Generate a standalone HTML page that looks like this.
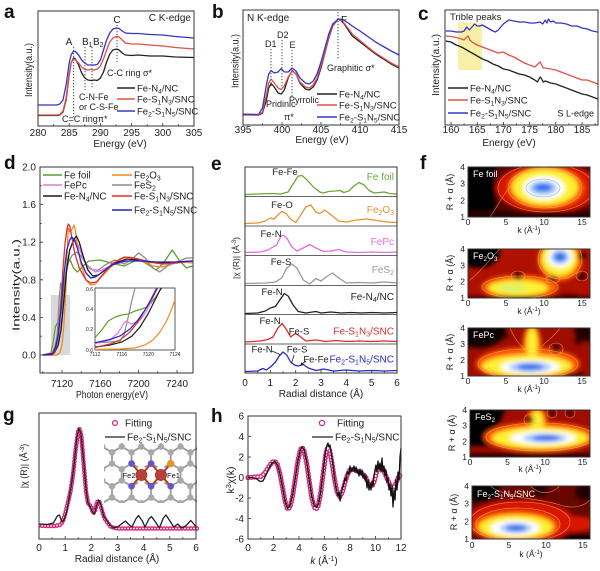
<!DOCTYPE html>
<html><head><meta charset="utf-8"><style>
html,body{margin:0;padding:0;background:#fff}
svg{display:block;font-family:"Liberation Sans",Arial,sans-serif}
.s{font-size:70%}
.t{font-size:10px;fill:#222}
.l{font-size:9.5px;fill:#222}
.n{font-size:9px;fill:#222}
.L{font-size:19px;font-weight:bold;fill:#111}
.fr{fill:none;stroke:#333;stroke-width:1}
.tk{fill:none;stroke:#333;stroke-width:0.8}
.c{fill:none;stroke-width:1.3;stroke-linejoin:round}
.dt{stroke:#444;stroke-width:1;stroke-dasharray:1.2 1.8;fill:none}
.w{font-size:9px;fill:#fff}
.m{font-size:8.5px;fill:#222}
.ct{fill:none;stroke:#ffb070;stroke-width:.6;opacity:.75}
</style></head><body>
<svg width="600" height="571" viewBox="0 0 600 571">
<defs>
<filter id="bl" x="-50%" y="-50%" width="200%" height="200%"><feGaussianBlur stdDeviation="2"/></filter>
<clipPath id="m1"><rect x="468" y="167" width="122" height="50"/></clipPath>
<clipPath id="m2"><rect x="468" y="249" width="122" height="49"/></clipPath>
<clipPath id="m3"><rect x="468" y="328" width="122" height="48"/></clipPath>
<clipPath id="m4"><rect x="470" y="410" width="120" height="47"/></clipPath>
<clipPath id="m5"><rect x="472" y="486" width="118" height="53"/></clipPath>
<clipPath id="ins"><rect x="95" y="288" width="80" height="62"/></clipPath>
<clipPath id="gc"><rect x="39" y="413" width="160" height="126"/></clipPath>
<marker id="ar" viewBox="0 0 6 6" refX="5" refY="3" markerWidth="4" markerHeight="4" orient="auto"><path d="M0 0L6 3L0 6z" fill="#222"/></marker>
<pattern id="hex" patternUnits="userSpaceOnUse" x="112" y="441" width="19.57" height="33.9">
<g stroke="#9a9a9a" stroke-width="1.8" fill="none">
<path d="M0 11.3V22.6M19.57 11.3V22.6M0 11.3L9.785 5.65L19.57 11.3M0 22.6L9.785 28.25L19.57 22.6M9.785 28.25V33.9M9.785 0V5.65"/>
</g>
<g fill="#a8a8a8">
<circle cx="0" cy="11.3" r="3.2"/><circle cx="19.57" cy="11.3" r="3.2"/><circle cx="0" cy="22.6" r="3.2"/><circle cx="19.57" cy="22.6" r="3.2"/><circle cx="9.785" cy="5.65" r="3.2"/><circle cx="9.785" cy="28.25" r="3.2"/>
</g>
</pattern>
</defs>

<!-- ============ Panel a ============ -->
<text class="L" x="4" y="18">a</text>
<path class="dt" d="M73.6 47V117M85 47V90M92 47V88M117 25V62"/>
<polyline class="c" stroke="#222" points="38,115.5 56.7,115.5 59.8,115 63,112 66.1,100 69.2,75 71.1,63 73.6,58 75.4,59 78.6,65 81.7,73 84.8,78 87.9,80 91,80.5 94.2,80 97.3,80.5 100.4,78 103.5,72 106.6,62 109.8,54 112.9,50 116.6,49 119.1,50 122.2,53 125.4,55 131.6,55.5 137.8,55 150.3,56 162.8,56 175.3,57 194,57.5"/>
<polyline class="c" stroke="#e05048" points="38,115 56.7,115 59.8,114.5 63,111 66.1,98 69.2,74 71.1,63 73.6,59 75.4,60 78.6,63 81.7,67 84.8,69.5 87.9,70 91,69.5 94.2,70 97.3,69 100.4,66 103.5,59 106.6,50 109.8,42 112.9,38 116.6,36.5 119.1,37 122.2,40 125.4,43 131.6,44 137.8,44 150.3,45 162.8,46 175.3,47.5 194,49"/>
<polyline class="c" stroke="#3535c8" points="38,105 56.7,105 59.8,104 63,100 66.1,85 69.2,63 71.1,55 73.6,51 75.4,51.5 78.6,55 81.7,60 84.8,63 87.9,65 91,65 94.2,65 97.3,64.5 100.4,60 103.5,50 106.6,40 109.8,33 112.9,29 116.6,28 119.1,28.5 122.2,31 125.4,33 131.6,33.5 137.8,33.5 150.3,34.5 162.8,35 175.3,36.5 194,38"/>
<rect class="fr" x="38" y="11" width="156" height="115"/>
<path class="tk" d="M38 126v-3M69.2 126v-3M100.4 126v-3M131.6 126v-3M162.8 126v-3M194 126v-3M53.6 126v-1.8M84.8 126v-1.8M116 126v-1.8M147.2 126v-1.8M178.4 126v-1.8"/>
<g class="t" text-anchor="middle"><text x="38" y="136">280</text><text x="69.2" y="136">285</text><text x="100.4" y="136">290</text><text x="131.6" y="136">295</text><text x="162.8" y="136">300</text><text x="194" y="136">305</text>
<text x="120" y="147">Energy (eV)</text></g>
<text class="t" transform="translate(32,70) rotate(-90)" text-anchor="middle" textLength="54" lengthAdjust="spacingAndGlyphs">Intensity(a.u.)</text>
<text class="t" x="69" y="45" text-anchor="middle">A</text>
<text class="t" x="82" y="45">B<tspan class="s" dy="2">1</tspan></text>
<text class="t" x="93" y="45">B<tspan class="s" dy="2">2</tspan></text>
<text class="t" x="117" y="23" text-anchor="middle">C</text>
<text class="t" x="191" y="21" text-anchor="end">C K-edge</text>
<text class="n" x="107" y="76">C-C ring σ*</text>
<text class="n" x="79" y="100">C-N-Fe</text>
<text class="n" x="79" y="110">or C-S-Fe</text>
<text class="n" x="62" y="122">C=C ringπ*</text>
<path d="M117 88h18" stroke="#222" stroke-width="1.5"/><text class="l" x="137" y="91.5">Fe-N<tspan class="s" dy="2">4</tspan><tspan dy="-2">/NC</tspan></text>
<path d="M117 99h18" stroke="#e05048" stroke-width="1.5"/><text class="l" x="137" y="102.5">Fe-S<tspan class="s" dy="2">1</tspan><tspan dy="-2">N</tspan><tspan class="s" dy="2">3</tspan><tspan dy="-2">/SNC</tspan></text>
<path d="M117 111h18" stroke="#3535c8" stroke-width="1.5"/><text class="l" x="137" y="114.5">Fe<tspan class="s" dy="2">2</tspan><tspan dy="-2">-S</tspan><tspan class="s" dy="2">1</tspan><tspan dy="-2">N</tspan><tspan class="s" dy="2">5</tspan><tspan dy="-2">/SNC</tspan></text>

<!-- ============ Panel b ============ -->
<text class="L" x="212" y="18">b</text>
<path class="dt" d="M271 49V88M282 40V90M292 50V98M338 12V60"/>
<polyline class="c" stroke="#222" points="243,115 258.6,115 262.5,113 266.4,100 268.7,88 271.1,83.5 274.2,87 278.1,93 281.2,94 284.3,90 288.2,78 292.1,70.5 296,74 299.9,83 305.4,89 309.3,90 313.2,87 317.1,80 321,68 324.9,53 328.8,38 332.7,26 338.2,19 342.8,22 348.3,30 352.2,36 360,42 367.8,48 375.6,54 383.4,59 391.2,64 399,68"/>
<polyline class="c" stroke="#e05048" points="243,115 258.6,115 262.5,112 266.4,95 268.7,83 271.1,79 274.2,83 278.1,88 281.2,89.5 284.3,86 288.2,77 292.1,71 296,74 299.9,82 305.4,87 309.3,88 313.2,85 317.1,78 321,66 324.9,52 328.8,37 332.7,25.5 338.2,19 342.8,21.5 348.3,28.5 352.2,34 360,40.5 367.8,47 375.6,53 383.4,58 391.2,63 399,67"/>
<polyline class="c" stroke="#3535c8" points="243,114 258.6,114.5 262.5,108 266.4,85 268.7,74 271.1,70.5 274.2,73 278.1,72 281.2,68.5 284.3,72 288.2,72 292.1,68 296,71 299.9,78 305.4,83 309.3,84 313.2,81 317.1,74 321,62 324.9,48 328.8,34 332.7,24 338.2,19 342.8,19.5 348.3,23 352.2,26 360,31 367.8,36.5 375.6,42 383.4,46.5 391.2,51 399,55"/>
<rect class="fr" x="243" y="10" width="156" height="115"/>
<path class="tk" d="M243 125v-3M282 125v-3M321 125v-3M360 125v-3M399 125v-3M262.5 125v-1.8M301.5 125v-1.8M340.5 125v-1.8M379.5 125v-1.8"/>
<g class="t" text-anchor="middle"><text x="243" y="133">395</text><text x="282" y="133">400</text><text x="321" y="133">405</text><text x="360" y="133">410</text><text x="399" y="133">415</text>
<text x="322" y="143">Energy (eV)</text></g>
<text class="t" transform="translate(238.5,61) rotate(-90)" text-anchor="middle" textLength="54" lengthAdjust="spacingAndGlyphs">Intensity(a.u.)</text>
<text class="t" x="247" y="21">N K-edge</text>
<text class="n" x="265" y="47">D1</text>
<text class="n" x="277" y="38">D2</text>
<text class="n" x="289.5" y="48">E</text>
<text class="t" x="341" y="23">F</text>
<text class="n" x="327" y="71">Graphitic σ*</text>
<text class="n" x="289" y="103">Pyrrolic</text>
<text class="n" x="266" y="107">Pridinic</text>
<text class="n" x="284" y="120">π*</text>
<path d="M317 94h20" stroke="#222" stroke-width="1.5"/><text class="l" x="339" y="97.5">Fe-N<tspan class="s" dy="2">4</tspan><tspan dy="-2">/NC</tspan></text>
<path d="M317 105h20" stroke="#e05048" stroke-width="1.5"/><text class="l" x="339" y="108.5">Fe-S<tspan class="s" dy="2">1</tspan><tspan dy="-2">N</tspan><tspan class="s" dy="2">3</tspan><tspan dy="-2">/SNC</tspan></text>
<path d="M317 117h20" stroke="#3535c8" stroke-width="1.5"/><text class="l" x="339" y="120.5">Fe<tspan class="s" dy="2">2</tspan><tspan dy="-2">-S</tspan><tspan class="s" dy="2">1</tspan><tspan dy="-2">N</tspan><tspan class="s" dy="2">5</tspan><tspan dy="-2">/SNC</tspan></text>

<!-- ============ Panel c ============ -->
<text class="L" x="418" y="20">c</text>
<rect x="458" y="23" width="24" height="47" fill="#f8f0a8"/>
<polyline class="c" stroke="#3535c8" points="445.8,31 451,31 456.2,32 461.5,32 464.1,31 466.7,27 469.3,30 472,27 474.6,24 477.2,26 479.8,26 482.4,25 487.7,28 492.9,31 495.5,32 498.2,30 503.4,24 508.6,20 513.9,21 519.1,22 524.4,22 529.6,23 534.8,23 540.1,22 542.7,24 545.3,20 546.9,23 548.5,19 550.6,22 553.2,21 555.8,23 561,23 566.3,24 571.5,26 576.8,26 582,28 587.2,29 592.5,31 597.7,32"/>
<polyline class="c" stroke="#e05048" points="445.8,36 451,36.5 456.2,37.5 461.5,39 464.1,40 466.7,37 468.3,36 469.9,40 472,42 477.2,45 482.4,47 487.7,49 492.9,51 498.2,53 503.4,52 508.6,55 513.9,57 519.1,60 524.4,63 529.6,65 534.8,67 540.1,62 541.7,65 543.2,68 545.3,68 550.6,69 555.8,70 561,72 566.3,74 571.5,76 576.8,78 582,80 587.2,80 592.5,82 597.7,84"/>
<polyline class="c" stroke="#222" points="445.8,41 451,42 456.2,45 461.5,47 466.7,50 472,53 477.2,56 482.4,59 487.7,61 492.9,64 498.2,66 503.4,69 508.6,70 513.9,72 519.1,74 524.4,75 529.6,77 534.8,80 537.4,82 540.1,77 541.7,79 543.2,82 545.3,81 550.6,83 555.8,84 561,86 566.3,88 571.5,90 576.8,92 582,94 587.2,95 592.5,97 597.7,99"/>
<rect class="fr" x="445" y="10" width="153" height="115"/>
<path class="tk" d="M451 125v-3M477.2 125v-3M503.4 125v-3M529.6 125v-3M555.8 125v-3M582 125v-3M464.1 125v-1.8M490.3 125v-1.8M516.5 125v-1.8M542.7 125v-1.8M568.9 125v-1.8M595.1 125v-1.8"/>
<g class="t" text-anchor="middle"><text x="451" y="133">160</text><text x="477.2" y="133">165</text><text x="503.4" y="133">170</text><text x="529.6" y="133">175</text><text x="555.8" y="133">180</text><text x="582" y="133">185</text>
<text x="509" y="146">Energy (eV)</text></g>
<text class="t" transform="translate(439,65) rotate(-90)" text-anchor="middle" textLength="62" lengthAdjust="spacingAndGlyphs">Intensity(a.u.)</text>
<text class="l" x="450" y="20">Trible peaks</text>
<path d="M448 88h20" stroke="#222" stroke-width="1.5"/><text class="l" x="470" y="91.5">Fe-N<tspan class="s" dy="2">4</tspan><tspan dy="-2">/NC</tspan></text>
<path d="M448 100h20" stroke="#e05048" stroke-width="1.5"/><text class="l" x="470" y="103.5">Fe-S<tspan class="s" dy="2">1</tspan><tspan dy="-2">N</tspan><tspan class="s" dy="2">3</tspan><tspan dy="-2">/SNC</tspan></text>
<path d="M448 113h20" stroke="#3535c8" stroke-width="1.5"/><text class="l" x="470" y="116.5">Fe<tspan class="s" dy="2">2</tspan><tspan dy="-2">-S</tspan><tspan class="s" dy="2">1</tspan><tspan dy="-2">N</tspan><tspan class="s" dy="2">5</tspan><tspan dy="-2">/SNC</tspan></text>
<text x="594" y="116.5" font-size="9" fill="#222" text-anchor="end">S L-edge</text>

<!-- ============ Panel d ============ -->
<text class="L" x="4" y="169">d</text>
<rect x="51" y="295" width="19" height="60" fill="#d9d9d9"/>
<polyline class="c" stroke="#5aa02c" points="42.8,355 50.5,355 53.4,341 55.3,327 58.2,321 61,313 63.9,285 66.8,266 69.7,259 73.5,268 77.3,272 83.1,266 88.8,261 100.3,260 114.7,264 124.3,266 138.6,259 150.1,266 155.9,270 163.5,263 172.2,250 179.8,261 186.5,268 192.3,266"/>
<polyline class="c" stroke="#8c8c8c" points="42.8,355 52.4,353 55.3,345 57.2,335 59.1,300 60.6,283 62,290 63.9,290 65.8,275 68.7,262 71.6,256 76.4,252 81.2,256 86,264 92.7,270 98.4,270 105.1,265 114.7,260 124.3,264 131,260 138.6,253 145.3,258 153,268 159.7,272 167.4,266 176.9,262 186.5,258 192.3,258"/>
<polyline class="c" stroke="#e27ae0" points="42.8,355 54.3,352 57.2,346 60.1,325 62,318 63.9,300 66.8,268 69.7,250 72.5,243 75.4,240 78.3,245 83.1,258 88.8,268 95.5,272 102.2,270 111.8,265 124.3,262 138.6,259 153,262 167.4,264 181.7,262 192.3,263"/>
<polyline class="c" stroke="#f08a24" points="42.8,355 57.2,355 60.1,352 62,345 63.9,325 65.8,290 67.3,250 68.2,228 69.7,232 71.6,230 74,225 75.4,230 77.3,245 81.2,265 86,280 90.7,285 95.5,284 100.3,278 109.9,268 119.5,259 129.1,257 138.6,259 153,266 162.6,267 176.9,262 192.3,262"/>
<polyline class="c" stroke="#1a1a1a" points="42.8,355 54.3,353 58.2,345 61,330 63.9,300 66.8,268 69.7,250 73.5,240 76.4,236 79.2,242 83.1,256 87.9,270 92.7,276 98.4,275 105.1,270 114.7,263 127.1,259 138.6,260 157.8,263 176.9,262 192.3,261"/>
<polyline class="c" stroke="#e0302a" points="42.8,355 52.4,355 55.3,350 57.2,340 59.1,325 61,300 62.9,270 64.9,245 66.8,230 68.2,224 69.7,226 71.6,236 74.5,252 79.2,268 86,280 90.7,283 96.5,282 102.2,275 111.8,264 124.3,257 133.8,258 148.2,262 162.6,264 176.9,263 192.3,261"/>
<polyline class="c" stroke="#2424c8" points="42.8,355 52.4,354 55.3,348 58.2,335 61,310 63.9,275 66.8,250 69.7,240 71.6,237 74.5,240 77.3,248 81.2,262 86,273 90.7,278 95.5,277 102.2,272 111.8,265 124.3,261 138.6,261 157.8,262 176.9,262 192.3,261"/>
<!-- inset -->
<rect x="95" y="288" width="80" height="62" fill="#fff" stroke="#333" stroke-width="0.8"/>
<g clip-path="url(#ins)" fill="none" stroke-width="1.2">
<polyline stroke="#5aa02c" points="95,337.6 101.7,330 108.3,321 115,317 121.7,315 128.3,314 135,311 141.7,309 148.3,306.6 155,298 161.7,288 165,282"/>
<polyline stroke="#8c8c8c" points="95,343 110,342 120,341 124,335 128,318 132,300 135,288 137,280"/>
<polyline stroke="#e27ae0" points="95,343.5 110,340 118,333 124,323 127,321 131,324 135,322.5 140,320 146,312 152,300 156,290 158,284"/>
<polyline stroke="#f08a24" points="95,349.5 120,349 135,348 145,345 153,340 160,332 166,322 171,311 175,300"/>
<polyline stroke="#1a1a1a" points="95,347 110,345 122,342 132,336 140,327 148,314 155,300 160,290 166,280"/>
<polyline stroke="#e0302a" points="95,347.5 110,344 120,340 130,332 138,322 145,310 151,299 156,289 159,282"/>
<polyline stroke="#2424c8" points="95,342.8 110,339.5 120,336 130,329 138,320 145,310 151,300 157,289 160,282"/>
</g>
<g font-size="5" fill="#222"><text x="93" y="291" text-anchor="end">0.6</text><text x="93" y="311" text-anchor="end">0.4</text><text x="93" y="331" text-anchor="end">0.2</text><text x="93" y="352" text-anchor="end">0.0</text>
<g text-anchor="middle"><text x="95" y="356">7112</text><text x="121.7" y="356">7116</text><text x="148.3" y="356">7120</text><text x="175" y="356">7124</text></g></g>
<rect class="fr" x="40" y="167" width="153" height="206"/>
<path class="tk" d="M40 355h3M40 317.4h3M40 279.8h3M40 242.2h3M40 204.6h3M40 336.2h1.8M40 298.6h1.8M40 261h1.8M40 223.4h1.8M40 185.8h1.8M62 373v-3M100.3 373v-3M138.6 373v-3M177 373v-3M81.2 373v-1.8M119.5 373v-1.8M157.8 373v-1.8M42.8 373v-1.8"/>
<g class="t" text-anchor="end"><text x="36" y="358.5">0.0</text><text x="36" y="320.9">0.4</text><text x="36" y="283.3">0.8</text><text x="36" y="245.7">1.2</text><text x="36" y="208.1">1.6</text><text x="36" y="170.5">2.0</text></g>
<g class="t" text-anchor="middle"><text x="62" y="387">7120</text><text x="100.3" y="387">7160</text><text x="138.6" y="387">7200</text><text x="177" y="387">7240</text>
<text x="112" y="398" textLength="72" lengthAdjust="spacingAndGlyphs">Photon energy(eV)</text></g>
<text transform="translate(19.5,285) rotate(-90)" text-anchor="middle" font-size="10" fill="#222" textLength="92" lengthAdjust="spacingAndGlyphs">Intensity(a.u.)</text>
<g font-size="9.8" fill="#222">
<path d="M43 175h19" stroke="#5aa02c" stroke-width="1.5"/><text x="64" y="178.5">Fe foil</text>
<path d="M112 175h20" stroke="#f08a24" stroke-width="1.5"/><text x="134" y="178.5">Fe<tspan class="s" dy="2">2</tspan><tspan dy="-2">O</tspan><tspan class="s" dy="2">3</tspan></text>
<path d="M43 185h19" stroke="#e27ae0" stroke-width="1.5"/><text x="64" y="188.5">FePc</text>
<path d="M112 185h20" stroke="#8c8c8c" stroke-width="1.5"/><text x="134" y="188.5">FeS<tspan class="s" dy="2">2</tspan></text>
<path d="M43 196h19" stroke="#1a1a1a" stroke-width="1.5"/><text x="64" y="199.5">Fe-N<tspan class="s" dy="2">4</tspan><tspan dy="-2">/NC</tspan></text>
<path d="M112 196h20" stroke="#e0302a" stroke-width="1.5"/><text x="134" y="199.5">Fe-S<tspan class="s" dy="2">1</tspan><tspan dy="-2">N</tspan><tspan class="s" dy="2">3</tspan><tspan dy="-2">/SNC</tspan></text>
<path d="M112 210h20" stroke="#2424c8" stroke-width="1.5"/><text x="134" y="213.5">Fe<tspan class="s" dy="2">2</tspan><tspan dy="-2">-S</tspan><tspan class="s" dy="2">1</tspan><tspan dy="-2">N</tspan><tspan class="s" dy="2">5</tspan><tspan dy="-2">/SNC</tspan></text>
</g>

<!-- ============ Panel e ============ -->
<text class="L" x="211" y="170">e</text>
<polyline class="c" stroke="#6aa83a" points="245,194.5 257.7,194 270.3,193.5 280.5,194 288.1,192 293.1,184 298.2,176 302,175.5 307.1,180 313.4,187 319.7,192 323.5,193 328.6,191.5 334.9,191 340,190.5 343.8,192.5 348.9,191 353.9,186 359,182.5 364.1,185 369.1,190.5 374.2,193 379.2,192.5 384.3,192 389.4,193.5 397,194"/>
<polyline class="c" stroke="#e8922e" points="245,223.5 257.7,223 265.3,221 270.3,218 274.1,219 277.9,215 281.7,211.5 285.5,213 290.6,219 295.7,222.5 300.7,215 305.8,207 310.9,205 315.9,212 319.7,213.5 324.8,210 331.1,215 338.7,221 346.3,222 356.5,220 366.6,219 376.7,220.5 386.8,222 397,222.5"/>
<polyline class="c" stroke="#e070e0" points="245,252.5 260.2,252 267.8,250 272.9,247 276.7,245 280.5,237 283,235 286.8,238 291.9,247 296.9,251 303.3,248 309.6,244.5 315.9,248 323.5,251.5 331.1,251 338.7,249.5 346.3,252 359,252.5 371.7,252 384.3,252.5 397,252"/>
<polyline class="c" stroke="#999" points="245,283.5 265.3,283 275.4,282 281.7,278 286.8,268 291.9,264 296.9,268 303.3,280 309.6,284 315.9,278.5 321,281 326.1,277 332.4,273 338.7,278 346.3,283 359,282.5 371.7,283 384.3,282 397,283"/>
<polyline class="c" stroke="#222" points="245,313.5 257.7,313 265.3,311 270.3,308 275.4,306.5 280.5,299 284.3,293.5 288.1,296 293.1,305 298.2,311.5 305.8,313 315.9,311.5 321,313 331.1,312 341.3,313 351.4,312.5 361.5,313 371.7,312.5 384.3,313 397,312.5"/>
<polyline class="c" stroke="#d83030" points="245,342 260.2,341 267.8,339.5 272.9,337 277.9,328 282.2,323.5 286.8,330 290.6,337 293.1,335 295.7,333.5 299.5,336 305.8,341 315.9,340 326.1,341.5 336.2,340.5 346.3,341.5 359,341 371.7,341.5 384.3,341 397,341.5"/>
<polyline class="c" stroke="#2a2ad0" points="245,371.5 257.7,371 262.7,368.5 266.5,370 271.6,366 275.4,362 279.2,356 283,352 286.8,355 290.6,362 294.4,365 298.2,366 303.3,364.5 308.3,368 315.9,370.5 323.5,369 333.7,371 346.3,370 359,371 371.7,370.5 384.3,371 397,370.5"/>
<rect class="fr" x="245" y="167" width="152" height="206"/>
<path d="M245 196.5H397M245 226H397M245 255.5H397M245 285.5H397M245 314.5H397M245 344H397" stroke="#333" stroke-width="0.8"/>
<path class="tk" d="M245 373v-3M270.3 373v-3M295.7 373v-3M321 373v-3M346.3 373v-3M371.7 373v-3M397 373v-3M257.7 373v-1.8M283 373v-1.8M308.3 373v-1.8M333.7 373v-1.8M359 373v-1.8M384.3 373v-1.8"/>
<g class="t" text-anchor="middle"><text x="245" y="386">0</text><text x="270.3" y="386">1</text><text x="295.7" y="386">2</text><text x="321" y="386">3</text><text x="346.3" y="386">4</text><text x="371.7" y="386">5</text><text x="397" y="386">6</text>
<text x="321" y="397">Radial distance (Å)</text></g>
<text transform="translate(239,258) rotate(-90)" text-anchor="middle" font-size="8.5" fill="#222">|χ (R)| (Å<tspan class="s" dy="-3">-3</tspan><tspan dy="3">)</tspan></text>
<g class="l" text-anchor="middle">
<text x="285" y="175">Fe-Fe</text><text x="282" y="208">Fe-O</text><text x="271" y="237">Fe-N</text><text x="281" y="265">Fe-S</text><text x="272" y="295">Fe-N</text><text x="270" y="324">Fe-N</text><text x="299" y="334.5">Fe-S</text><text x="262" y="352.5">Fe-N</text><text x="297" y="352.5">Fe-S</text><text x="316" y="362.5">Fe-Fe</text>
</g>
<path d="M272 351L281 355M294 355L291.5 363.5M306 361L300.5 365" stroke="#222" stroke-width="0.8" marker-end="url(#ar)"/>
<g font-size="10" text-anchor="end">
<text x="394" y="180" style="fill:#6aa83a">Fe foil</text>
<text x="394" y="213" style="fill:#e8922e">Fe<tspan class="s" dy="2">2</tspan><tspan dy="-2">O</tspan><tspan class="s" dy="2">3</tspan></text>
<text x="394" y="245" style="fill:#e070e0">FePc</text>
<text x="394" y="273" style="fill:#999">FeS<tspan class="s" dy="2">2</tspan></text>
<text x="394" y="300" style="fill:#222">Fe-N<tspan class="s" dy="2">4</tspan><tspan dy="-2">/NC</tspan></text>
<text x="394" y="334.5" style="fill:#d83030">Fe-S<tspan class="s" dy="2">1</tspan><tspan dy="-2">N</tspan><tspan class="s" dy="2">3</tspan><tspan dy="-2">/SNC</tspan></text>
<text x="394" y="362.5" style="fill:#2a2ad0">Fe<tspan class="s" dy="2">2</tspan><tspan dy="-2">-S</tspan><tspan class="s" dy="2">1</tspan><tspan dy="-2">N</tspan><tspan class="s" dy="2">5</tspan><tspan dy="-2">/SNC</tspan></text>
</g>

<!-- ============ Panel f ============ -->
<text class="L" x="420" y="169">f</text>
<!-- map 1 Fe foil -->
<g clip-path="url(#m1)">
<rect x="468" y="167" width="122" height="50" fill="#5a0600"/>
<g filter="url(#bl)">
<rect x="455" y="160" width="40" height="65" fill="#050000"/>
<ellipse cx="548" cy="188" rx="52" ry="25" fill="#d81800"/>
<ellipse cx="546" cy="188" rx="38" ry="21" fill="#ff5a00"/>
<ellipse cx="545" cy="187" rx="33" ry="18.5" fill="#fff030"/>
<ellipse cx="544" cy="188" rx="21" ry="12" fill="#fff"/>
<ellipse cx="543" cy="188" rx="14" ry="7" fill="#a0c4ff"/>
<ellipse cx="543" cy="187.5" rx="9" ry="4" fill="#2f6fe8"/>
<rect x="460" y="211" width="140" height="12" fill="#2a0000"/>
</g>
<g class="ct"><ellipse cx="546" cy="188" rx="48" ry="24"/><ellipse cx="545" cy="188" rx="37" ry="20"/><path d="M490 217C502 200 507 185 520 180"/></g>
<ellipse cx="543" cy="188" rx="17" ry="9" fill="none" stroke="#8ab0ff" stroke-width=".6"/>
</g>
<rect class="fr" x="468" y="167" width="122" height="50"/>
<text class="w" x="473" y="177">Fe foil</text>
<!-- map 2 Fe2O3 -->
<g clip-path="url(#m2)">
<rect x="468" y="249" width="122" height="49" fill="#b01000"/>
<g filter="url(#bl)">
<ellipse cx="478" cy="252" rx="22" ry="16" fill="#000"/>
<ellipse cx="520" cy="287" rx="38" ry="12" fill="#ff6a00"/>
<ellipse cx="560" cy="260" rx="22" ry="21" fill="#ff6a00"/>
<ellipse cx="518" cy="288" rx="30" ry="8" fill="#fff030"/>
<ellipse cx="559" cy="259" rx="18" ry="17" fill="#fff030"/>
<ellipse cx="560" cy="257" rx="13" ry="11" fill="#fff"/>
<ellipse cx="560" cy="257" rx="9" ry="7" fill="#a0c4ff"/>
<ellipse cx="560" cy="257" rx="6" ry="4.5" fill="#2f6fe8"/>
<ellipse cx="512" cy="288" rx="14" ry="3.5" fill="#d8f070"/>
<circle cx="518" cy="276" r="4" fill="#300000"/>
<circle cx="553" cy="279" r="3.5" fill="#300000"/>
<circle cx="582" cy="276" r="4" fill="#300000"/>
<circle cx="582" cy="256" r="4" fill="#300000"/>
<ellipse cx="570" cy="296" rx="10" ry="2" fill="#300000"/>
<rect x="460" y="296" width="140" height="6" fill="#500000"/>
</g>
<g class="ct"><ellipse cx="518" cy="276" rx="7" ry="5"/><ellipse cx="553" cy="279" rx="7" ry="4"/><ellipse cx="582" cy="276" rx="6" ry="5"/><ellipse cx="520" cy="287" rx="38" ry="11"/><ellipse cx="560" cy="259" rx="22" ry="20"/><path d="M470 280C485 268 490 258 500 249"/></g>
</g>
<rect class="fr" x="468" y="249" width="122" height="49"/>
<text class="w" x="473" y="259">Fe<tspan class="s" dy="2">2</tspan><tspan dy="-2">O</tspan><tspan class="s" dy="2">3</tspan></text>
<!-- map 3 FePc -->
<g clip-path="url(#m3)">
<rect x="468" y="328" width="122" height="48" fill="#a00c00"/>
<g filter="url(#bl)">
<ellipse cx="478" cy="330" rx="28" ry="18" fill="#100000"/>
<ellipse cx="592" cy="330" rx="18" ry="12" fill="#200000"/>
<ellipse cx="528" cy="364" rx="52" ry="17" fill="#ff5a00"/>
<ellipse cx="532" cy="345" rx="9" ry="20" fill="#ff8a00"/>
<ellipse cx="527" cy="366" rx="45" ry="11" fill="#fff030"/>
<ellipse cx="532" cy="345" rx="5" ry="18" fill="#fff030"/>
<ellipse cx="530" cy="367" rx="30" ry="7" fill="#fff"/>
<ellipse cx="530" cy="367" rx="21" ry="5" fill="#a0c4ff"/>
<ellipse cx="530" cy="367" rx="13" ry="3.2" fill="#2f6fe8"/>
<circle cx="556" cy="349" r="4" fill="#300000"/>
<circle cx="505" cy="336" r="3" fill="#300000"/>
<circle cx="578" cy="341" r="3.5" fill="#300000"/>
<ellipse cx="575" cy="374" rx="10" ry="2" fill="#300000"/>
</g>
<g class="ct"><ellipse cx="556" cy="349" rx="7" ry="6"/><ellipse cx="528" cy="364" rx="50" ry="15"/><ellipse cx="528" cy="365" rx="40" ry="12"/><path d="M510 328C515 340 520 345 526 350M560 328C555 336 548 340 542 346"/></g>
</g>
<rect class="fr" x="468" y="328" width="122" height="48"/>
<text class="w" x="473" y="338">FePc</text>
<!-- map 4 FeS2 -->
<g clip-path="url(#m4)">
<rect x="470" y="410" width="120" height="47" fill="#a00c00"/>
<g filter="url(#bl)">
<path d="M462 404L508 404L488 446L462 446Z" fill="#050000"/>
<ellipse cx="540" cy="437" rx="56" ry="15" fill="#ff5a00"/>
<ellipse cx="537" cy="422" rx="10" ry="15" fill="#ff8a00"/>
<ellipse cx="540" cy="438" rx="48" ry="11" fill="#fff030"/>
<ellipse cx="537" cy="424" rx="6" ry="13" fill="#fff030"/>
<ellipse cx="543" cy="438" rx="33" ry="7" fill="#fff"/>
<ellipse cx="545" cy="438" rx="22" ry="4.5" fill="#a0c4ff"/>
<ellipse cx="546" cy="438" rx="14" ry="3" fill="#2f6fe8"/>
<circle cx="530" cy="420" r="3.5" fill="#300000"/>
<circle cx="552" cy="413" r="3" fill="#300000"/>
<circle cx="570" cy="413" r="3" fill="#300000"/>
<rect x="460" y="453" width="140" height="8" fill="#300000"/>
</g>
<g class="ct"><ellipse cx="530" cy="420" rx="6" ry="6"/><ellipse cx="552" cy="413" rx="5" ry="5"/><ellipse cx="570" cy="413" rx="5" ry="5"/><ellipse cx="540" cy="437" rx="54" ry="14"/></g>
</g>
<rect class="fr" x="470" y="410" width="120" height="47"/>
<text class="w" x="475" y="420">FeS<tspan class="s" dy="2">2</tspan></text>
<!-- map 5 Fe2-S1N5/SNC -->
<g clip-path="url(#m5)">
<rect x="472" y="486" width="118" height="53" fill="#6a0600"/>
<g filter="url(#bl)">
<ellipse cx="480" cy="490" rx="20" ry="12" fill="#000"/>
<ellipse cx="540" cy="490" rx="8" ry="6" fill="#200000"/>
<ellipse cx="585" cy="492" rx="10" ry="8" fill="#200000"/>
<ellipse cx="520" cy="522" rx="55" ry="22" fill="#d81800"/>
<ellipse cx="570" cy="524" rx="30" ry="8" fill="#d81800"/>
<ellipse cx="516" cy="526" rx="42" ry="15" fill="#ff6000"/>
<ellipse cx="516" cy="527" rx="37" ry="12" fill="#fff030"/>
<ellipse cx="515" cy="528" rx="25" ry="8" fill="#fff"/>
<ellipse cx="516" cy="528" rx="16" ry="5" fill="#a0c4ff"/>
<ellipse cx="516" cy="528" rx="10" ry="3.2" fill="#2f6fe8"/>
<ellipse cx="580" cy="538" rx="20" ry="4" fill="#000"/>
</g>
<g class="ct"><ellipse cx="520" cy="522" rx="50" ry="20"/><ellipse cx="518" cy="524" rx="42" ry="16"/><path d="M490 486C510 500 540 498 560 505C575 510 585 505 590 500M530 486C540 495 550 495 560 486"/></g>
</g>
<rect class="fr" x="472" y="486" width="118" height="53"/>
<text class="w" x="477" y="497">Fe<tspan class="s" dy="2">2</tspan><tspan dy="-2">-S</tspan><tspan class="s" dy="2">1</tspan><tspan dy="-2">N</tspan><tspan class="s" dy="2">5</tspan><tspan dy="-2">/SNC</tspan></text>
<!-- map ticks / labels -->
<g class="m" text-anchor="end">
<text x="465" y="170">4</text><text x="465" y="186.7">3</text><text x="465" y="203.3">2</text><text x="465" y="220">1</text>
<text x="465" y="252">4</text><text x="465" y="268.3">3</text><text x="465" y="284.7">2</text><text x="465" y="301">1</text>
<text x="465" y="331">4</text><text x="465" y="347">3</text><text x="465" y="363">2</text><text x="465" y="379">1</text>
<text x="467" y="413">4</text><text x="467" y="428.7">3</text><text x="467" y="444.3">2</text><text x="467" y="460">1</text>
<text x="469" y="489">4</text><text x="469" y="506.7">3</text><text x="469" y="524.3">2</text><text x="469" y="542">1</text>
</g>
<g class="m" text-anchor="middle">
<text x="468" y="225">0</text><text x="506" y="225">5</text><text x="544" y="225">10</text><text x="582" y="225">15</text>
<text x="468" y="306">0</text><text x="506" y="306">5</text><text x="544" y="306">10</text><text x="582" y="306">15</text>
<text x="468" y="384">0</text><text x="506" y="384">5</text><text x="544" y="384">10</text><text x="582" y="384">15</text>
<text x="470" y="465">0</text><text x="507.5" y="465">5</text><text x="545" y="465">10</text><text x="582.5" y="465">15</text>
<text x="472" y="548">0</text><text x="509" y="548">5</text><text x="546" y="548">10</text><text x="583" y="548">15</text>
<text x="529" y="233">k (Å<tspan class="s" dy="-3">-1</tspan><tspan dy="3">)</tspan></text>
<text x="529" y="314">k (Å<tspan class="s" dy="-3">-1</tspan><tspan dy="3">)</tspan></text>
<text x="529" y="392">k (Å<tspan class="s" dy="-3">-1</tspan><tspan dy="3">)</tspan></text>
<text x="530" y="472">k (Å<tspan class="s" dy="-3">-1</tspan><tspan dy="3">)</tspan></text>
<text x="531" y="557">k (Å<tspan class="s" dy="-3">-1</tspan><tspan dy="3">)</tspan></text>
</g>
<g font-size="9" fill="#222" text-anchor="middle">
<text transform="translate(453,192) rotate(-90)">R + α (Å)</text>
<text transform="translate(453,273) rotate(-90)">R + α (Å)</text>
<text transform="translate(453,352) rotate(-90)">R + α (Å)</text>
<text transform="translate(455,433) rotate(-90)">R + α (Å)</text>
<text transform="translate(457,512) rotate(-90)">R + α (Å)</text>
</g>

<!-- ============ Panel g ============ -->
<text class="L" x="3" y="421">g</text>
<g clip-path="url(#gc)">
<polyline fill="none" stroke="#d4287a" stroke-width="4.6" stroke-linecap="round" stroke-linejoin="round" stroke-dasharray="0 3" points="39,525.5 46.9,526 54.7,526 59.9,525 62.6,522 65.2,514 67.8,503 70.4,492 73,475 75.6,450 78.3,430 79.6,429 81.4,436 83.5,462 86.1,492 88.2,504 90.6,506 93.2,513 94.7,512 97.1,502 99.2,501 101.8,510 104.4,518 107,522 111,527 117.5,528.5 198,528.5"/>
<polyline fill="none" stroke="#fff" stroke-width="1.8" stroke-linecap="round" stroke-linejoin="round" stroke-dasharray="0 3" points="39,525.5 46.9,526 54.7,526 59.9,525 62.6,522 65.2,514 67.8,503 70.4,492 73,475 75.6,450 78.3,430 79.6,429 81.4,436 83.5,462 86.1,492 88.2,504 90.6,506 93.2,513 94.7,512 97.1,502 99.2,501 101.8,510 104.4,518 107,522 111,527 117.5,528.5 198,528.5"/>
</g>
<polyline class="c" stroke="#222" stroke-width="1.1" points="39,524 46.9,524.5 53.4,523 57.3,516 59.4,515 62,522 63.9,520 66.5,512 69.1,498 71.7,483 74.3,463 76.9,437 78.8,428.5 80.9,433 83.5,460 86.1,490 87.9,503 90,506 92.6,512 94.5,514 96.6,505 98.7,500 101,505 103.6,516 107,521 109.7,525 113.6,528 117.5,527 121.4,524 125.4,521 129.3,525 131.9,527 135.8,519 138.4,515.5 142.4,521 145,527 148.9,519 151.5,516.5 155.5,522 159.4,528 163.3,518 165.9,515 169.9,521 173.8,527 177.7,524 181.6,528 185.6,526 190.8,520.5 194.7,525 196,527"/>
<!-- molecule -->
<rect x="104" y="443" width="93" height="60" fill="url(#hex)"/>
<g fill="#fff"><circle cx="141.4" cy="469.25" r="4"/><circle cx="141.4" cy="480.55" r="4"/><circle cx="160.9" cy="469.25" r="4"/><circle cx="160.9" cy="480.55" r="4"/></g>
<path d="M141.4 475L131.6 463.6M141.4 475L151.1 463.6M141.4 475L131.6 486.2M141.4 475L151.1 486.2M160.9 475L151.1 463.6M160.9 475L170.7 463.6M160.9 475L151.1 486.2M160.9 475L170.7 486.2" stroke="#c03828" stroke-width="2"/>
<g fill="#6655cc"><circle cx="131.6" cy="463.6" r="3.3"/><circle cx="151.1" cy="463.6" r="3.3"/><circle cx="131.6" cy="486.2" r="3.3"/><circle cx="151.1" cy="486.2" r="3.3"/><circle cx="170.7" cy="486.2" r="3.3"/></g>
<circle cx="170.7" cy="463.6" r="3.7" fill="#e0962a"/>
<circle cx="141.4" cy="475" r="5.6" fill="#b8413a" stroke="#8a2a24" stroke-width=".6"/>
<circle cx="160.9" cy="475" r="5.6" fill="#b8413a" stroke="#8a2a24" stroke-width=".6"/>
<g font-size="7.5" fill="#111"><text x="135.5" y="478" text-anchor="end">Fe2</text><text x="167" y="478">Fe1</text></g>
<rect class="fr" x="39" y="413" width="157" height="126"/>
<path class="tk" d="M39 539v-3M65.2 539v-3M91.3 539v-3M117.5 539v-3M143.7 539v-3M169.8 539v-3M196 539v-3M52.1 539v-1.8M78.3 539v-1.8M104.4 539v-1.8M130.6 539v-1.8M156.8 539v-1.8M182.9 539v-1.8"/>
<g class="t" text-anchor="middle"><text x="39" y="551">0</text><text x="65.2" y="551">1</text><text x="91.3" y="551">2</text><text x="117.5" y="551">3</text><text x="143.7" y="551">4</text><text x="169.8" y="551">5</text><text x="196" y="551">6</text>
<text x="117" y="562">Radial distance (Å)</text></g>
<text transform="translate(27,466) rotate(-90)" text-anchor="middle" font-size="9" fill="#222">|χ (R)| (Å<tspan class="s" dy="-3">-3</tspan><tspan dy="3">)</tspan></text>
<circle cx="115" cy="423" r="2.4" fill="#fff" stroke="#d4287a" stroke-width="1.3"/>
<text class="t" x="125" y="426.5">Fitting</text>
<path d="M105 437h20" stroke="#222" stroke-width="1.3"/>
<text class="t" x="127" y="440.5">Fe<tspan class="s" dy="2">2</tspan><tspan dy="-2">-S</tspan><tspan class="s" dy="2">1</tspan><tspan dy="-2">N</tspan><tspan class="s" dy="2">5</tspan><tspan dy="-2">/SNC</tspan></text>

<!-- ============ Panel h ============ -->
<text class="L" x="211" y="422">h</text>
<polyline fill="none" stroke="#d4287a" stroke-width="5.2" stroke-linecap="round" stroke-linejoin="round" stroke-dasharray="0 3.2" points="248,477.5 254.4,477 260.8,476.5 264.6,473.4 268.4,467.3 272.2,462.1 274.8,461.1 277.3,464.2 279.9,473.4 282.4,486.7 285,501.1 287.5,509.3 290.1,507.2 292.6,496 295.2,479.6 297.7,462.1 300.3,449.8 302.2,447.3 304.1,450.9 306.7,463.2 309.2,480.6 311.8,498 314.3,507.2 316.2,509.3 318.1,506.2 320.7,492.9 323.2,473.4 325.8,453.9 327.7,446.8 329.6,449.8 332.2,464.2 334.7,480.6 337.3,492.9 339.8,497 342.4,491.9 344.9,482.6 347.5,474.4 350,469.8 353.8,469.3 357.7,471.3 361.5,472.9 365.3,476.5 369.1,484.7 371.7,486.7 374.2,481.6 376.8,471.3 380,466.2 383.2,469.3 387,478.5 390.8,486.7 393.4,487.8 395.9,483.7 398.5,476.5 401,474.4"/>
<polyline fill="none" stroke="#fff" stroke-width="2.2" stroke-linecap="round" stroke-linejoin="round" stroke-dasharray="0 3.2" points="248,477.5 254.4,477 260.8,476.5 264.6,473.4 268.4,467.3 272.2,462.1 274.8,461.1 277.3,464.2 279.9,473.4 282.4,486.7 285,501.1 287.5,509.3 290.1,507.2 292.6,496 295.2,479.6 297.7,462.1 300.3,449.8 302.2,447.3 304.1,450.9 306.7,463.2 309.2,480.6 311.8,498 314.3,507.2 316.2,509.3 318.1,506.2 320.7,492.9 323.2,473.4 325.8,453.9 327.7,446.8 329.6,449.8 332.2,464.2 334.7,480.6 337.3,492.9 339.8,497 342.4,491.9 344.9,482.6 347.5,474.4 350,469.8 353.8,469.3 357.7,471.3 361.5,472.9 365.3,476.5 369.1,484.7 371.7,486.7 374.2,481.6 376.8,471.3 380,466.2 383.2,469.3 387,478.5 390.8,486.7 393.4,487.8 395.9,483.7 398.5,476.5 401,474.4"/>
<polyline class="c" stroke="#111" stroke-width="1.1" points="248,477.5 252,477.5 256,478.5 260,481.5 263,481 266,475 269,468 272,463 275,461.5 277.5,465 280,474 282.5,487 285,501 287.5,508.5 290,506 292.6,495 295.2,479 297.7,462 300.3,450 302,447 304,449.5 306.7,462 309.2,480 311.8,497 314.3,506 316.5,507.5 318.5,504 320.7,492 323.2,472 325.5,452 327,445 328,443 329,447 330,445 331,452 332.5,462 334.7,480 336.5,490 338,496 339,492 340,501 341,494 342.4,489 344,484 345,478 346,481 347.5,472 349,474 350,466 351,472 352,468 353,471 354,466 355,472 356,467 357,473 358,470 359,476 360,469 361,475 362,470 363,478 364,474 365,480 366,475 367,488 368,480 369,490 370,483 371,490 372,481 373,486 374,476 375,470 376,465 377,472 378,461 379,470 380,463 381,472 382,458 383,472 384,466 385,476 386,470 387,482 388,478 389,490 390,484 391,496 392,486 393,507 394,490 395,500 396,480 397,490 398,472 399,480 400,457 401,448"/>
<rect class="fr" x="248" y="416" width="153" height="123"/>
<path class="tk" d="M248 416h3M248 436.5h3M248 457h3M248 477.5h3M248 498h3M248 518.5h3M248 539h3M248 539v-3M273.5 539v-3M299 539v-3M324.5 539v-3M350 539v-3M375.5 539v-3M401 539v-3M260.8 539v-1.8M286.3 539v-1.8M311.8 539v-1.8M337.3 539v-1.8M362.8 539v-1.8M388.3 539v-1.8"/>
<g class="t" text-anchor="end"><text x="244" y="419.5">6</text><text x="244" y="440">4</text><text x="244" y="460.5">2</text><text x="244" y="481">0</text><text x="244" y="501.5">-2</text><text x="244" y="522">-4</text><text x="244" y="542.5">-6</text></g>
<g class="t" text-anchor="middle"><text x="248" y="551">0</text><text x="273.5" y="551">2</text><text x="299" y="551">4</text><text x="324.5" y="551">6</text><text x="350" y="551">8</text><text x="375.5" y="551">10</text><text x="401" y="551">12</text>
<text x="324" y="564"><tspan font-style="italic">k</tspan>  (Å<tspan class="s" dy="-3">-1</tspan><tspan dy="3">)</tspan></text></g>
<text transform="translate(234,480) rotate(-90)" text-anchor="middle" font-size="10.5" fill="#222">k<tspan class="s" dy="-3">3</tspan><tspan dy="3">χ(k)</tspan></text>
<circle cx="322" cy="423" r="2.6" fill="#fff" stroke="#d4287a" stroke-width="1.3"/>
<text class="t" x="337" y="426.5">Fitting</text>
<path d="M312 437h21" stroke="#222" stroke-width="1.3"/>
<text class="t" x="335" y="440.5">Fe<tspan class="s" dy="2">2</tspan><tspan dy="-2">-S</tspan><tspan class="s" dy="2">1</tspan><tspan dy="-2">N</tspan><tspan class="s" dy="2">5</tspan><tspan dy="-2">/SNC</tspan></text>
</svg>
</body></html>
